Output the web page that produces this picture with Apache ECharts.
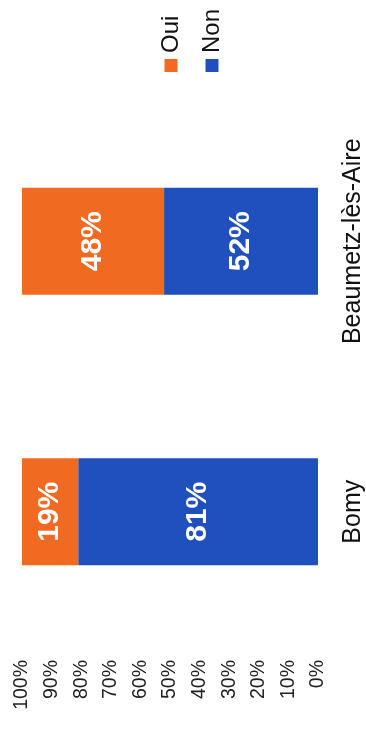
<!DOCTYPE html>
<html>
<head>
<meta charset="utf-8">
<script src="https://cdn.jsdelivr.net/npm/echarts@6/dist/echarts.min.js"></script>
<style>
  html, body { margin: 0; padding: 0; background: #ffffff; }
  #chart { width: 366px; height: 737px; }
</style>
</head>
<body>
<div id="chart"></div>
<script>
// Communes and answer shares (percent)
const categories = ['Bomy', 'Beaumetz-lès-Aire'];
const ouiValues = [19, 48];
const nonValues = [81, 52];
const seriesNames = ['Oui', 'Non'];
const seriesColors = ['#F06A21', '#1F50BE'];

const FONT = 'Liberation Sans, Arial, sans-serif';
const chart = echarts.init(document.getElementById('chart'), null, { renderer: 'canvas' });

const barLabel = {
  show: true,
  position: 'inside',
  rotate: 90,
  color: '#ffffff',
  fontFamily: FONT,
  fontWeight: 'bold',
  fontSize: 30,
  formatter: p => p.value + '%'
};

// Rotated legend drawn as graphic items (square + text reading upward)
function legendItem(name, color, cx) {
  return [
    { type: 'rect', shape: { x: cx - 6.5, y: 59, width: 13, height: 13 }, style: { fill: color } },
    { type: 'text', x: cx, y: 53, rotation: Math.PI / 2,
      style: { text: name, fill: '#111', font: '24px ' + FONT, textAlign: 'left', textVerticalAlign: 'middle' } }
  ];
}

chart.setOption({
  animation: false,
  backgroundColor: '#ffffff',
  grid: { left: 22, right: 46, top: 106, bottom: 90, containLabel: false },
  xAxis: {
    type: 'value',
    inverse: true,
    min: 0, max: 100, interval: 10,
    position: 'bottom',
    axisLine: { show: false },
    axisTick: { show: false },
    splitLine: { show: false },
    axisLabel: {
      rotate: 90,
      margin: 13,
      color: '#222',
      fontFamily: FONT,
      fontSize: 19.5,
      formatter: '{value}%'
    }
  },
  yAxis: {
    type: 'category',
    data: categories,
    position: 'right',
    axisLine: { show: false },
    axisTick: { show: false },
    axisLabel: {
      rotate: 90,
      margin: 23,
      color: '#111',
      fontFamily: FONT,
      fontSize: 25
    }
  },
  series: [
    { name: seriesNames[1], type: 'bar', stack: 'total', data: nonValues,
      barWidth: 107, itemStyle: { color: seriesColors[1] }, label: barLabel },
    { name: seriesNames[0], type: 'bar', stack: 'total', data: ouiValues,
      barWidth: 107, itemStyle: { color: seriesColors[0] }, label: barLabel }
  ],
  graphic: [
    ...legendItem(seriesNames[0], seriesColors[0], 171),
    ...legendItem(seriesNames[1], seriesColors[1], 212)
  ]
});
</script>
</body>
</html>
